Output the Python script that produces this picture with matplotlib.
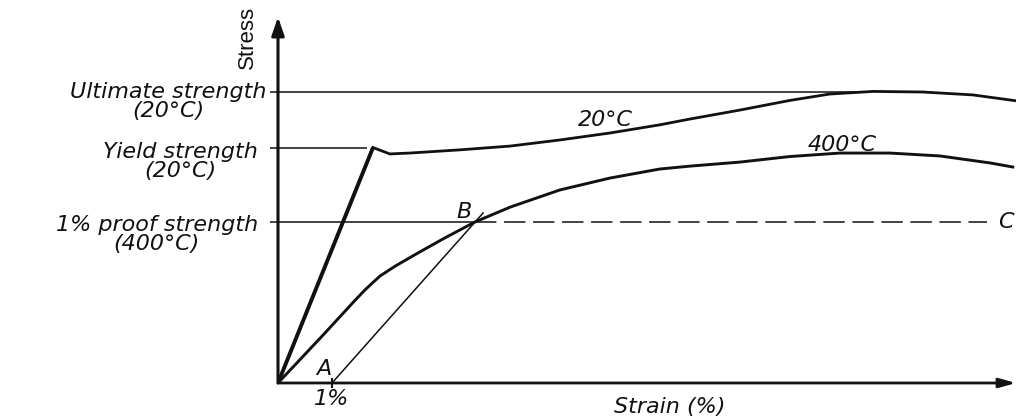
import matplotlib
matplotlib.use("Agg")
import matplotlib.pyplot as plt

# ---------------- data (strain in %, stress in arbitrary units) ----------------
strain_20 = [0.0, 1.76, 2.07, 2.44, 3.37, 4.30, 5.22, 6.15, 7.07, 7.63,
             8.56, 9.48, 10.22, 11.02, 11.94, 12.87, 13.70]
stress_20 = [0.0, 81.0, 78.8, 79.1, 80.2, 81.5, 83.6, 86.0, 88.8, 90.8,
             93.9, 97.2, 99.4, 100.3, 100.1, 99.1, 97.0]

strain_400 = [0.0, 0.82, 1.43, 1.61, 1.76, 1.89, 2.17, 2.59, 3.09, 3.65,
              4.30, 5.22, 6.15, 7.07, 7.63, 8.56, 9.48, 10.41, 11.33,
              12.26, 13.19, 13.61]
stress_400 = [0.0, 16.2, 28.5, 32.0, 34.6, 36.8, 40.2, 44.7, 49.9, 55.4,
              60.5, 66.4, 70.5, 73.6, 74.6, 76.0, 77.9, 79.1, 79.1,
              78.1, 75.7, 74.3]

level_names = ["Ultimate strength\n(20°C)", "Yield strength\n(20°C)",
               "1% proof strength\n(400°C)"]
level_values = [100.0, 80.9, 55.4]
level_end_strain = [10.96, 1.65, 3.65]

offset_strain = [1.0, 3.80]     # line A -> B (1 % offset line)
offset_stress = [0.0, 58.5]

point_B = [3.65, 55.4]
point_C = [13.13, 55.4]

tick_strain = [1.0]
tick_labels = ["1%"]

curve_names = ["20°C", "400°C"]

# ---------------- figure ----------------
W, H = 1018, 420
fig = plt.figure(figsize=(W / 100, H / 100), dpi=100)
ax = fig.add_axes([278 / W, (H - 383) / H, (1016 - 278) / W, (383 - 17) / H])
ax.set_xlim(0, 13.67)
ax.set_ylim(0, 125.9)
for s in ax.spines.values():
    s.set_visible(False)
ax.patch.set_visible(False)

ink = "#111111"
ital = dict(fontsize=16, fontstyle="italic", color=ink)

# axes with arrows
ax.annotate("", xy=(0, 1), xytext=(0, 0), xycoords="axes fraction",
            textcoords="axes fraction",
            arrowprops=dict(arrowstyle="-|>,head_length=1.1,head_width=0.38",
                            mutation_scale=10, lw=2.2, color=ink,
                            shrinkA=0, shrinkB=0), annotation_clip=False)
ax.annotate("", xy=(1, 0), xytext=(0, 0), xycoords="axes fraction",
            textcoords="axes fraction",
            arrowprops=dict(arrowstyle="-|>,head_length=1.0,head_width=0.28",
                            mutation_scale=10, lw=2.0, color=ink,
                            shrinkA=0, shrinkB=0), annotation_clip=False)

# ticks
ax.set_xticks(tick_strain, tick_labels)
ax.tick_params(axis="x", direction="inout", length=7, width=1.5,
               pad=1, labelsize=16, colors=ink)
for lbl in ax.get_xticklabels():
    lbl.set_fontstyle("italic")
ax.set_yticks(level_values, [""] * len(level_values))
ax.tick_params(axis="y", direction="out", length=6, width=1.1, colors=ink)

# level lines
for v, e in zip(level_values, level_end_strain):
    ax.plot([0, e], [v, v], lw=1.1, color=ink, solid_capstyle="butt")

# dashed line B -> C
ax.plot([point_B[0], point_C[0]], [point_B[1], point_C[1]], lw=1.1,
        color=ink, linestyle=(0, (14.0, 5.0)))

# offset line A -> B
ax.plot(offset_strain, offset_stress, lw=1.1, color=ink)

# curves
ax.plot(strain_400, stress_400, lw=2.1, color=ink, solid_joinstyle="round")
ax.plot(strain_20, stress_20, lw=2.0, color=ink, solid_joinstyle="miter")
ax.plot(strain_20[:2], stress_20[:2], lw=2.8, color=ink,
        solid_capstyle="butt")

# level labels
label_offsets = [(-8, 7.5), (-14.5, 4.5), (-14.5, 5.0)]
for name, v, off in zip(level_names, level_values, label_offsets):
    ax.annotate(name, xy=(0, v), xytext=off, textcoords="offset points",
                ha="right", va="top", multialignment="center",
                linespacing=0.95, annotation_clip=False, **ital)

# curve labels
ax.text(6.07, 90.5, curve_names[0], ha="center", va="center", **ital)
ax.text(10.44, 81.9, curve_names[1], ha="center", va="center", **ital)

# point labels
ax.annotate("A", xy=(offset_strain[0], offset_stress[0]), xytext=(-6, 10),
            textcoords="offset points", ha="center", va="center",
            annotation_clip=False, **ital)
ax.annotate("B", xy=point_B, xytext=(-8, 7), textcoords="offset points",
            ha="center", va="center", annotation_clip=False, **ital)
ax.annotate("C", xy=point_C, xytext=(14, 0), textcoords="offset points",
            ha="center", va="center", annotation_clip=False, **ital)

# axis titles
ax.text(7.26, -8.4, "Strain (%)", ha="center", va="center",
        clip_on=False, **ital)
ax.text(-0.56, 118.7, "Stress", rotation=90, ha="center", va="center",
        fontsize=16, color=ink, clip_on=False,
        family=["Liberation Sans", "DejaVu Sans"])

fig.savefig("out.png", dpi=100)
